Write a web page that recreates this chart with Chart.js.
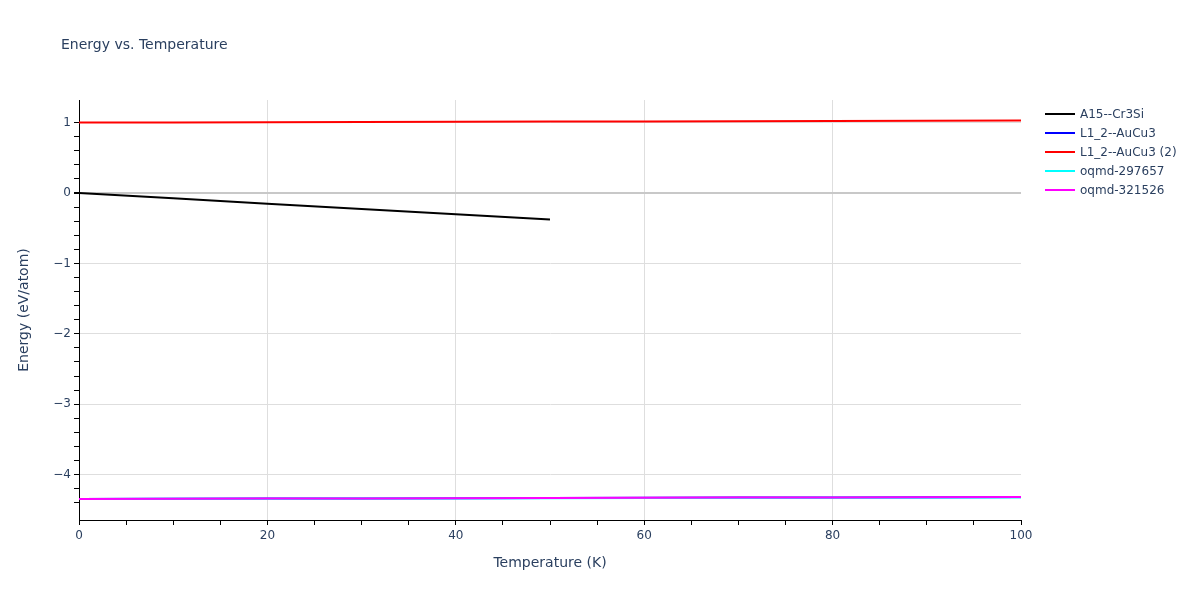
<!DOCTYPE html>
<html>
<head>
<meta charset="utf-8">
<script src="https://cdn.jsdelivr.net/npm/chart.js@4/dist/chart.umd.min.js"></script>
<style>
  body { margin: 0; background: #fff; font-family: 'DejaVu Sans', sans-serif; }
  #wrap { position: relative; width: 1200px; height: 600px; }
  #title { position: absolute; left: 61px; top: 36px; font-size: 14px; color: #2a3f5f; }
  #legend { position: absolute; left: 1045px; top: 104px; font-size: 12px; color: #2a3f5f; }
  .item { height: 19px; display: flex; align-items: center; }
  .swatch { width: 30px; height: 2px; margin-right: 5px; }
</style>
</head>
<body>
<div id="wrap">
  <canvas id="chart"></canvas>
  <div id="title">Energy vs. Temperature</div>
  <div id="legend"></div>
</div>
<script>
const temperatures = [0, 10, 20, 30, 40, 50, 60, 70, 80, 90, 100];
const a15Temps = [0, 10, 20, 30, 40, 50];
const a15Energy = [0, -0.075, -0.152, -0.228, -0.303, -0.378];
const l12Energy = [-4.345, -4.343, -4.340, -4.338, -4.335, -4.332, -4.330, -4.327, -4.324, -4.322, -4.319];
const l12bEnergy = [1.000, 1.002, 1.005, 1.008, 1.011, 1.014, 1.017, 1.020, 1.023, 1.026, 1.029];
const oqmd297657 = [-4.345, -4.344, -4.342, -4.340, -4.338, -4.336, -4.334, -4.332, -4.330, -4.328, -4.326];
const oqmd321526 = [-4.345, -4.343, -4.340, -4.338, -4.335, -4.332, -4.330, -4.327, -4.324, -4.322, -4.319];

const seriesLabels = ['A15--Cr3Si', 'L1_2--AuCu3', 'L1_2--AuCu3 (2)', 'oqmd-297657', 'oqmd-321526'];
const seriesColors = ['#000000', '#0000ff', '#ff0000', '#00ffff', '#ff00ff'];

const TEXT = '#2a3f5f';
const GRID = '#dedede';
const FONT = "'DejaVu Sans', sans-serif";

function points(xs, ys) {
  return xs.map((x, i) => ({ x, y: ys[i] }));
}

function onStep(value, step) {
  const r = value / step;
  return Math.abs(r - Math.round(r)) < 1e-6;
}

function minus(v) {
  return v < 0 ? '\u2212' + Math.abs(v) : String(v);
}

const seriesData = [
  points(a15Temps, a15Energy),
  points(temperatures, l12Energy),
  points(temperatures, l12bEnergy),
  points(temperatures, oqmd297657),
  points(temperatures, oqmd321526),
];

const datasets = seriesData.map((data, i) => ({
  label: seriesLabels[i],
  data,
  borderColor: seriesColors[i],
  backgroundColor: seriesColors[i],
  borderWidth: 2,
  pointRadius: 0,
  tension: 0,
  fill: false,
  order: seriesLabels.length - i,
}));

const legend = document.getElementById('legend');
seriesLabels.forEach((label, i) => {
  const row = document.createElement('div');
  row.className = 'item';
  row.innerHTML = `<span class="swatch" style="background:${seriesColors[i]}"></span><span>${label}</span>`;
  legend.appendChild(row);
});

new Chart(document.getElementById('chart'), {
  type: 'line',
  data: { datasets },
  options: {
    responsive: true,
    maintainAspectRatio: false,
    animation: false,
    layout: { padding: { top: 100, right: 179, bottom: 0, left: 0 } },
    plugins: {
      legend: { display: false },
      tooltip: { enabled: false },
    },
    scales: {
      x: {
        type: 'linear',
        min: 0,
        max: 100,
        afterFit(scale) { scale.height = 80; },
        border: { color: '#000', width: 1 },
        grid: {
          color(ctx) {
            const v = ctx.tick ? ctx.tick.value : null;
            if (v === null || v === 0 || v === 100) return 'rgba(0,0,0,0)';
            return onStep(v, 20) ? GRID : 'rgba(0,0,0,0)';
          },
          tickColor: '#000',
          tickLength: 5,
        },
        ticks: {
          stepSize: 5,
          padding: 4,
          color: TEXT,
          font: { family: FONT, size: 12 },
          maxRotation: 0,
          autoSkip: false,
          callback(value) {
            return onStep(value, 20) ? minus(value) : '';
          },
        },
        title: {
          display: true,
          text: 'Temperature (K)',
          color: TEXT,
          font: { family: FONT, size: 14 },
          padding: { top: 0, bottom: 28 },
        },
      },
      y: {
        type: 'linear',
        min: -4.645,
        max: 1.321,
        afterFit(scale) { scale.width = 79; },
        border: { color: '#000', width: 1 },
        grid: {
          color(ctx) {
            const v = ctx.tick ? ctx.tick.value : null;
            if (v === null) return 'rgba(0,0,0,0)';
            if (Math.abs(v) < 1e-6) return '#c8c8c8';
            return onStep(v, 1) ? GRID : 'rgba(0,0,0,0)';
          },
          lineWidth(ctx) {
            const v = ctx.tick ? ctx.tick.value : 1;
            return Math.abs(v) < 1e-6 ? 2 : 1;
          },
          tickColor(ctx) {
            const v = ctx.tick ? ctx.tick.value : 0.5;
            return onStep(v, 0.2) ? '#000' : 'rgba(0,0,0,0)';
          },
          tickLength: 5,
        },
        ticks: {
          stepSize: 0.2,
          padding: 3,
          color: TEXT,
          font: { family: FONT, size: 12 },
          autoSkip: false,
          callback(value) {
            return onStep(value, 1) ? minus(Math.round(value)) : '';
          },
        },
        title: {
          display: true,
          text: 'Energy (eV/atom)',
          color: TEXT,
          font: { family: FONT, size: 14 },
          padding: { top: 16, bottom: 0 },
        },
      },
    },
  },
});
</script>
</body>
</html>
